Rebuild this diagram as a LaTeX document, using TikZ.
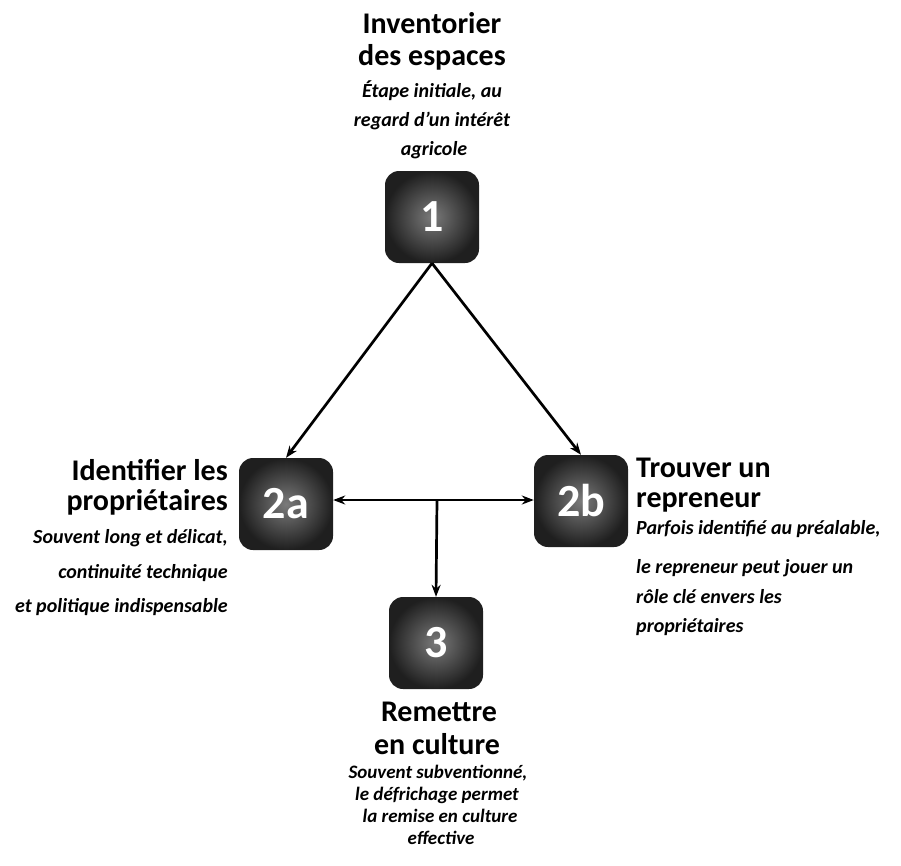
\documentclass[tikz,border=0pt]{standalone}
\usepackage{fontspec}
\setmainfont{Carlito}
\usetikzlibrary{arrows.meta}
\begin{document}
\begin{tikzpicture}[x=1pt,y=-1pt,
  numbox/.style={rounded corners=14pt, minimum width=94pt, minimum height=92pt, inner sep=0pt,
    inner color=black!52, outer color=black!88, text=white,
    font=\fontsize{46}{46}\selectfont\bfseries},
  ttl/.style={font=\fontsize{30}{30}\selectfont\bfseries, inner sep=0pt},
  dsc/.style={font=\fontsize{20}{20}\selectfont\bfseries\itshape, inner sep=0pt},
  dscb/.style={font=\fontsize{19}{19}\selectfont\bfseries\itshape, inner sep=0pt},
  conn/.style={-{Stealth[length=12pt,width=9pt]}, line width=2.7pt},
  dconn/.style={{Stealth[length=12pt,width=9pt]}-{Stealth[length=12pt,width=9pt]}, line width=2.7pt},
]
\useasboundingbox (0,0) rectangle (901,865);

% boxes
\node[numbox] (b1)  at (432,217) {1};
\node[numbox] (b2a) at (286,504) {2a};
\node[numbox] (b2b) at (581,501) {2b};
\node[numbox] (b3)  at (436,643) {3};

% top text
\node[ttl, anchor=base] (t1a) at (432,33) {Inventorier};
\node[ttl, anchor=base] (t1b) at (432,65) {des espaces};
\node[dsc, anchor=base] (d1a) at (432,97) {Étape initiale, au};
\node[dsc, anchor=base] (d1b) at (432,126) {regard d’un intérêt};
\node[dsc, anchor=base] (d1c) at (434,155) {agricole};

% left text
\node[ttl, anchor=base east] (t2a) at (228,480) {Identifier les};
\node[ttl, anchor=base east] (t2b) at (228,510) {propriétaires};
\node[dsc, anchor=base east] (d2a) at (228,543) {Souvent long et délicat,};
\node[dsc, anchor=base east] (d2b) at (228,578) {continuité technique};
\node[dsc, anchor=base east] (d2c) at (228,612) {et politique indispensable};

% right text
\node[ttl, anchor=base west] (t3a) at (636,477) {Trouver un};
\node[ttl, anchor=base west] (t3b) at (636,507) {repreneur};
\node[dsc, anchor=base west] (d3a) at (636,534) {Parfois identifié au préalable,};
\node[dsc, anchor=base west] (d3b) at (636,573) {le repreneur peut jouer un};
\node[dsc, anchor=base west] (d3c) at (636,603) {rôle clé envers les};
\node[dsc, anchor=base west] (d3d) at (636,632) {propriétaires};

% bottom text
\node[ttl, anchor=base] (t4a) at (439,721) {Remettre};
\node[ttl, anchor=base] (t4b) at (437,754) {en culture};
\node[dscb, anchor=base] (d4a) at (438,778) {Souvent subventionné,};
\node[dscb, anchor=base] (d4b) at (437,800) {le défrichage permet};
\node[dscb, anchor=base] (d4c) at (440,822) {la remise en culture};
\node[dscb, anchor=base] (d4d) at (441,844) {effective};

% connectors
\coordinate (j) at (437,500);
\draw[conn] (b1.south) -- (b2a.north);
\draw[conn] (b1.south) -- (b2b.north);
\draw[dconn] (b2a.east |- j) -- (b2b.west |- j);
\draw[conn] (j) -- (b3.north);
\end{tikzpicture}
\end{document}
